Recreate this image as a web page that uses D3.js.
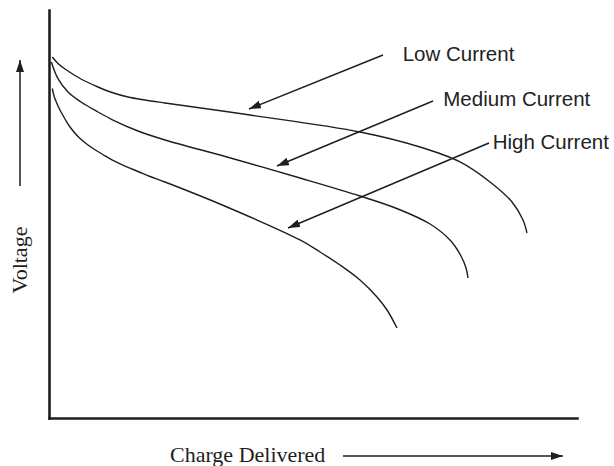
<!DOCTYPE html>
<html>
<head>
<meta charset="utf-8">
<script src="https://cdn.jsdelivr.net/npm/d3@7"></script>
<style>
  html, body { margin: 0; padding: 0; background: #fff; }
  svg { display: block; }
</style>
</head>
<body>
<svg id="chart" width="614" height="466"></svg>
<script>
// ---- data (arbitrary units: charge 0-100, voltage 0-100) ----
const seriesNames = ["Low Current", "Medium Current", "High Current"];

const lowCharge  = [0.63, 1.70, 3.03, 6.06, 9.28, 11.93, 14.96, 18.18, 21.97, 38.07, 58.90, 70.27, 77.84, 83.52, 87.69, 89.77, 90.53];
const lowVoltage = [88.48, 86.89, 85.54, 83.09, 81.13, 79.78, 78.68, 77.94, 77.21, 74.26, 70.10, 66.42, 62.75, 57.84, 52.94, 48.53, 45.34];

const medCharge  = [0.44, 1.70, 3.60, 6.06, 9.28, 11.93, 16.86, 21.97, 33.71, 47.54, 58.90, 66.10, 72.16, 75.95, 78.03, 78.98, 79.36];
const medVoltage = [87.25, 83.16, 79.90, 77.45, 75.00, 73.16, 70.34, 68.14, 63.97, 58.82, 54.41, 51.23, 47.55, 43.63, 39.71, 36.76, 34.31];

const highCharge  = [0.63, 0.95, 1.38, 2.08, 3.03, 3.98, 5.49, 7.01, 8.71, 10.42, 11.93, 14.39, 16.86, 19.13, 21.97, 33.71, 47.54, 51.33, 55.11, 58.90, 62.12, 64.02, 65.91];
const highVoltage = [80.76, 78.92, 77.45, 75.49, 73.28, 71.32, 69.00, 67.28, 65.74, 64.39, 63.28, 61.76, 60.42, 59.19, 57.84, 51.72, 43.63, 40.69, 37.50, 33.82, 29.66, 26.47, 22.06];

// annotation anchors (data units): arrow tip on curve, leader start, label position
const tipCharge    = [37.88, 43.18, 45.27];
const tipVoltage   = [75.74, 61.76, 46.57];
const startCharge  = [63.26, 72.73, 83.33];
const startVoltage = [88.97, 77.70, 67.40];
const labelCharge  = [66.99, 74.68, 84.03];
const labelVoltage = [87.57, 76.54, 65.86];

const xTitle = "Charge Delivered";
const yTitle = "Voltage";

// ---- drawing ----
const svg = d3.select("#chart");
const ink = "#1e1e1e";

const x = d3.scaleLinear().domain([0, 100]).range([49, 577]);
const y = d3.scaleLinear().domain([0, 100]).range([418, 10]);

// arrowhead marker
const defs = svg.append("defs");
defs.append("marker")
  .attr("id", "ah")
  .attr("viewBox", "0 0 12 8")
  .attr("refX", 12).attr("refY", 4)
  .attr("markerWidth", 12).attr("markerHeight", 8)
  .attr("markerUnits", "userSpaceOnUse")
  .attr("orient", "auto")
  .append("path").attr("d", "M0,0L12,4L0,8Z").attr("fill", ink);

// axes (domain lines only)
const yAxis = svg.append("g").attr("transform", `translate(${x(0)},0)`)
  .call(d3.axisLeft(y).ticks(0).tickSizeOuter(0));
const xAxis = svg.append("g").attr("transform", `translate(0,${y(0)})`)
  .call(d3.axisBottom(x).ticks(0).tickSizeOuter(0));
[xAxis, yAxis].forEach(g => g.select(".domain")
  .attr("stroke", ink).attr("stroke-width", 2.6).attr("stroke-linecap", "square"));

// curves
const series = [
  { charge: lowCharge,  voltage: lowVoltage },
  { charge: medCharge,  voltage: medVoltage },
  { charge: highCharge, voltage: highVoltage }
];
const line = d3.line()
  .x(d => x(d[0])).y(d => y(d[1]))
  .curve(d3.curveCatmullRom.alpha(0.5));

series.forEach(s => {
  const pts = s.charge.map((c, i) => [c, s.voltage[i]]);
  svg.append("path").datum(pts)
    .attr("d", line)
    .attr("fill", "none")
    .attr("stroke", ink)
    .attr("stroke-width", 1.4);
});

// annotations
seriesNames.forEach((name, i) => {
  svg.append("line")
    .attr("x1", x(startCharge[i])).attr("y1", y(startVoltage[i]))
    .attr("x2", x(tipCharge[i])).attr("y2", y(tipVoltage[i]))
    .attr("stroke", ink).attr("stroke-width", 1.4)
    .attr("marker-end", "url(#ah)");
  svg.append("text")
    .attr("x", x(labelCharge[i])).attr("y", y(labelVoltage[i]))
    .attr("font-family", "Liberation Sans, Arial, sans-serif")
    .attr("font-size", 20.5)
    .attr("fill", "#222")
    .text(name);
});

// axis titles with arrows
svg.append("text")
  .attr("transform", "translate(27,260) rotate(-90)")
  .attr("text-anchor", "middle")
  .attr("font-family", "Liberation Serif, Times New Roman, serif")
  .attr("font-size", 22)
  .attr("fill", ink)
  .text(yTitle);
svg.append("line")
  .attr("x1", 20).attr("y1", 186).attr("x2", 20).attr("y2", 60)
  .attr("stroke", ink).attr("stroke-width", 1.5)
  .attr("marker-end", "url(#ah)");

svg.append("text")
  .attr("x", 170).attr("y", 462)
  .attr("font-family", "Liberation Serif, Times New Roman, serif")
  .attr("font-size", 22)
  .attr("fill", ink)
  .text(xTitle);
svg.append("line")
  .attr("x1", 343).attr("y1", 456).attr("x2", 563).attr("y2", 456)
  .attr("stroke", ink).attr("stroke-width", 1.5)
  .attr("marker-end", "url(#ah)");
</script>
</body>
</html>
